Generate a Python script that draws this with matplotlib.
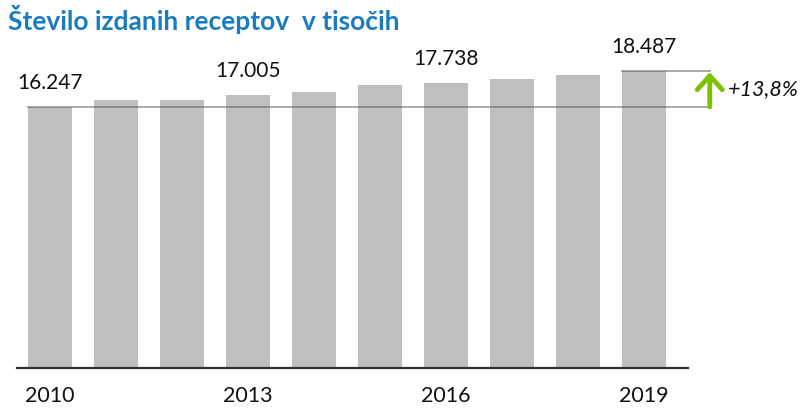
import matplotlib
matplotlib.use("Agg")
import matplotlib.pyplot as plt

# data
years = [2010, 2011, 2012, 2013, 2014, 2015, 2016, 2017, 2018, 2019]
values = [16247, 16650, 16640, 17005, 17150, 17610, 17738, 17990, 18240, 18487]
labelled = {2010: "16.247", 2013: "17.005", 2016: "17.738", 2019: "18.487"}
tick_years = [2010, 2013, 2016, 2019]
growth_text = "+13,8%"
title = "Število izdanih receptov  v tisočih"

plt.rcParams['font.family'] = ['Lato', 'DejaVu Sans']

fig = plt.figure(figsize=(8.05, 4.09), dpi=100)
W, H = 805, 409
ax = fig.add_axes([17 / W, 1 - 368 / H, (688 - 17) / W, (368 - 40) / H])

x = list(range(len(years)))
bw = 0.67
ax.bar(x, values, width=bw, color="#bfbfbf", zorder=1)

ax.set_xlim(-0.5, len(years) - 1 + 0.67)
ax.set_ylim(0, 328 * 62.2)

for s in ["top", "right", "left"]:
    ax.spines[s].set_visible(False)
ax.spines["bottom"].set_color("#333333")
ax.spines["bottom"].set_linewidth(1.6)
ax.set_yticks([])
ax.set_xticks([years.index(y) for y in tick_years])
ax.set_xticklabels([str(y) for y in tick_years], fontsize=15.5)
ax.tick_params(axis="x", length=0, pad=13, colors="#111111")

# value labels
for i, (yr, v) in enumerate(zip(years, values)):
    if yr in labelled:
        ax.annotate(labelled[yr], (i, v), xytext=(0, 12.5), textcoords="offset points",
                    ha="center", va="baseline", fontsize=15, color="#111111")

# reference lines and growth arrow
xr = 10.0
ax.plot([-bw / 2, xr], [values[0], values[0]], color="#555555", alpha=0.5, lw=1.4,
        clip_on=False, zorder=2)
ax.plot([len(years) - 1 - bw / 2, xr], [values[-1], values[-1]], color="#555555",
        alpha=0.5, lw=1.4, clip_on=False, zorder=2)
ax.annotate("", xy=(xr, values[-1]), xytext=(xr, values[0]),
            arrowprops=dict(arrowstyle="->,head_width=0.45,head_length=0.5",
                            mutation_scale=20, color="#7cc200", lw=3.5,
                            shrinkA=0, shrinkB=1, capstyle="round"),
            annotation_clip=False)
ax.text(10.27, (values[0] + values[-1]) / 2, growth_text, fontsize=15.5, style="italic",
        va="center", ha="left", color="#111111", clip_on=False)

fig.text(8 / W, 1 - 20 / H, title, fontsize=19, fontweight="bold", color="#1a7cc0",
         ha="left", va="center")

fig.savefig("out.png", dpi=100)
